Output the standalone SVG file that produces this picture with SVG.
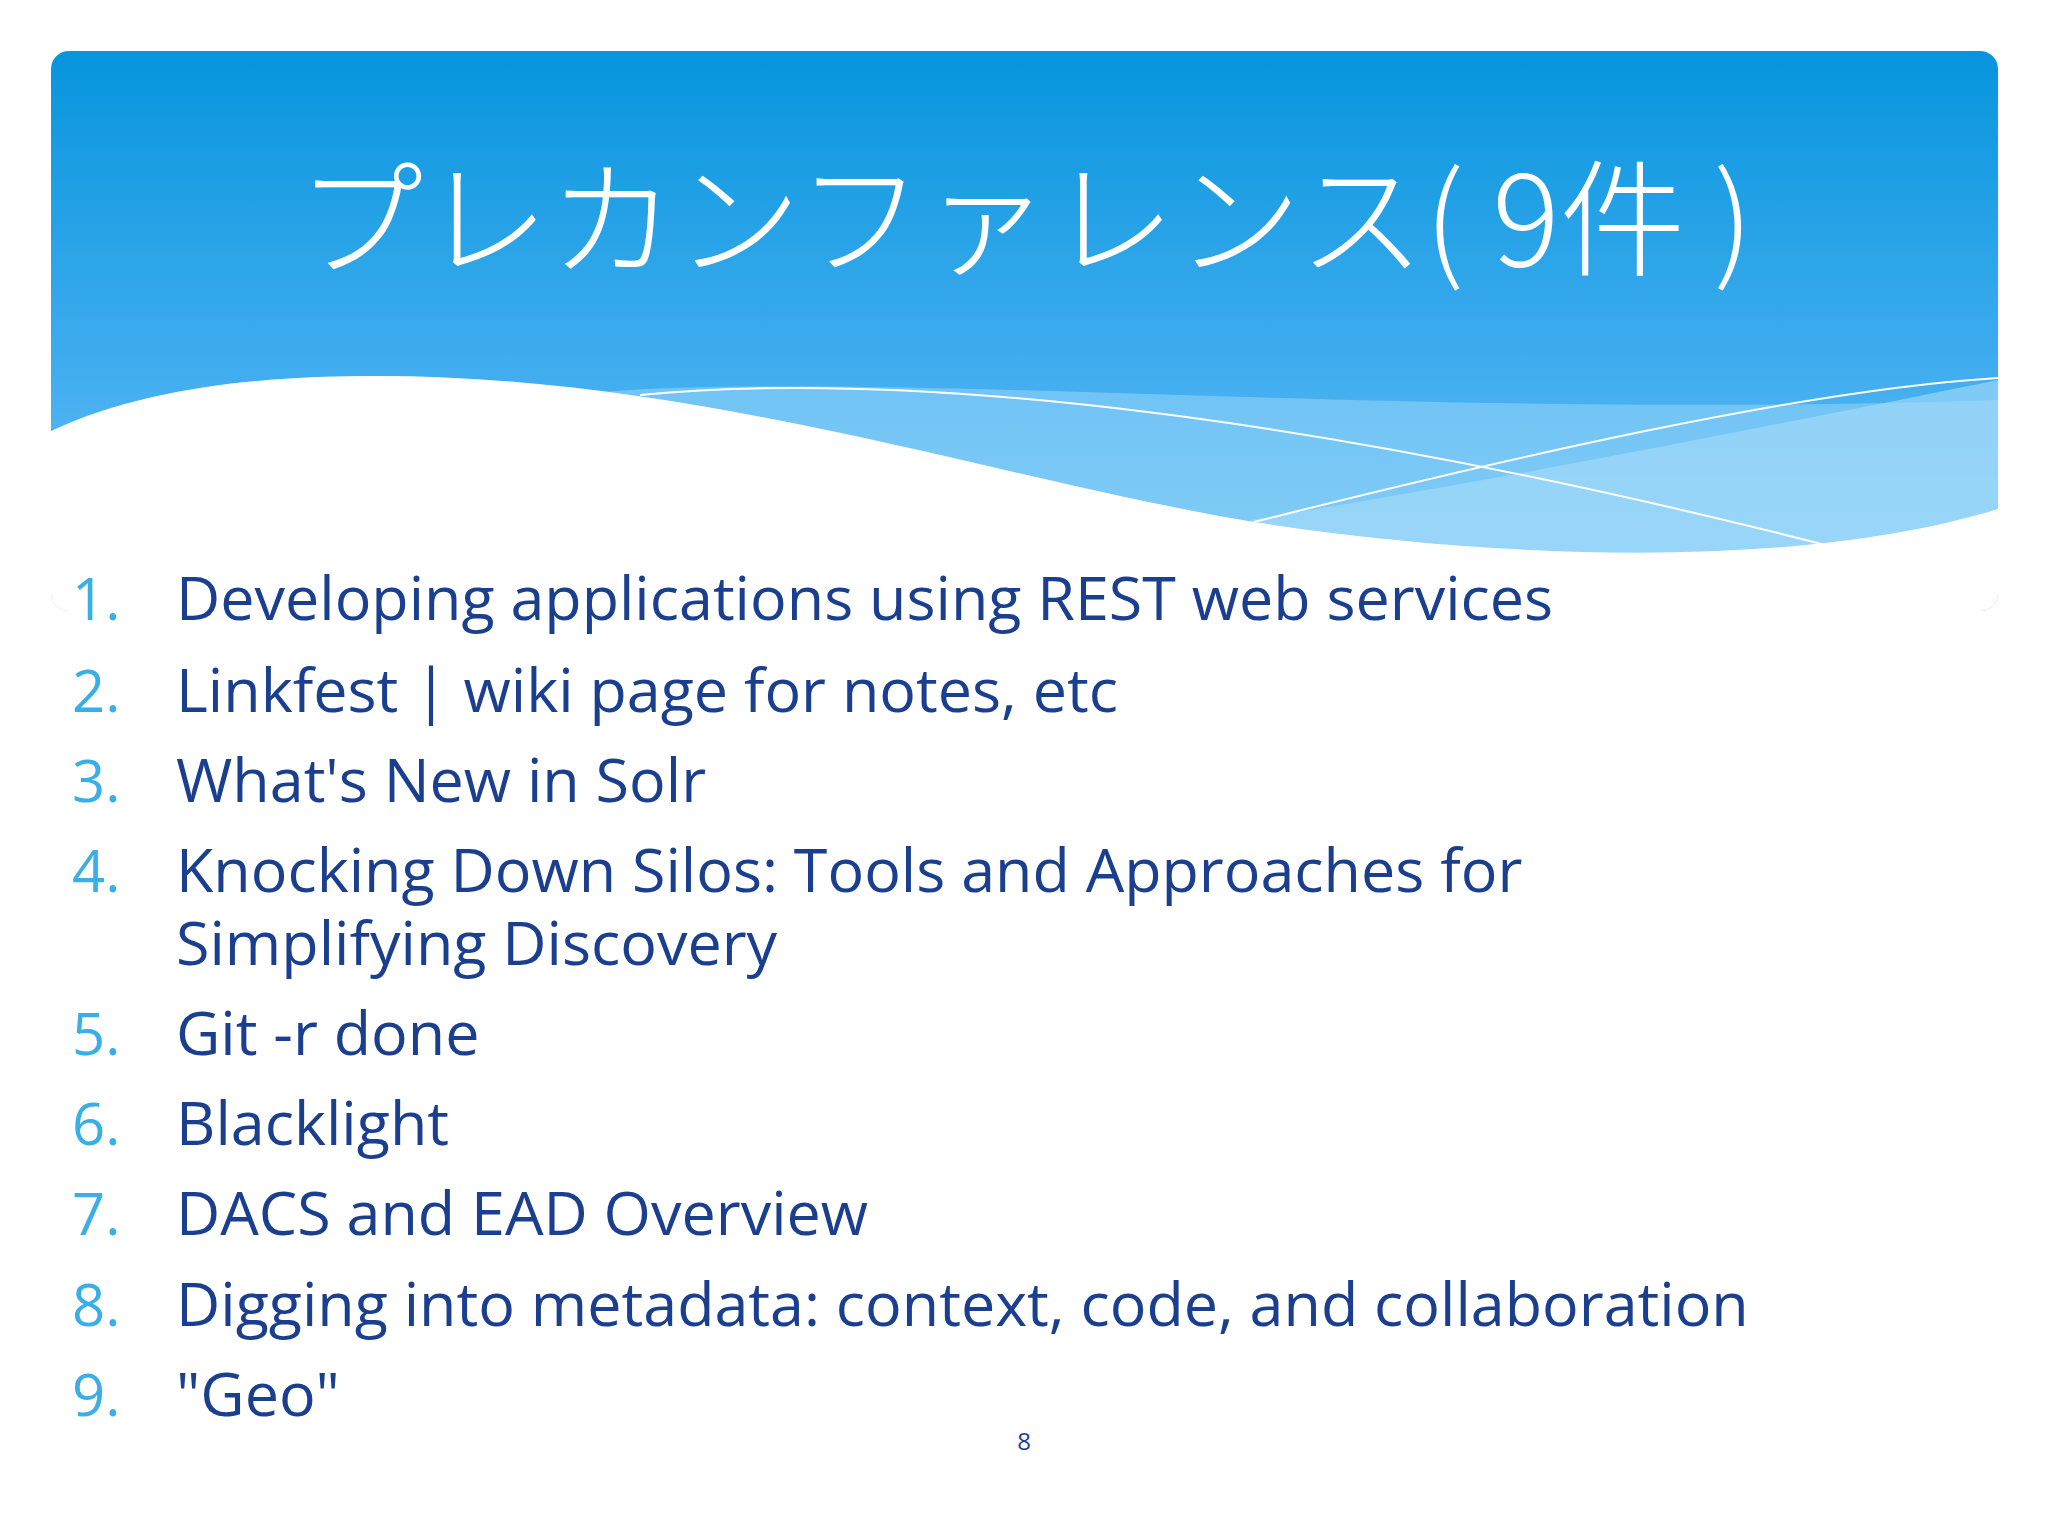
<svg xmlns="http://www.w3.org/2000/svg" width="2048" height="1536" viewBox="0 0 2048 1536">
<defs>
<linearGradient id="hdr" x1="0" y1="0" x2="0" y2="1">
<stop offset="0" stop-color="#0795dd"/>
<stop offset="0.6" stop-color="#43aef0"/>
<stop offset="1" stop-color="#7ccaf6"/>
</linearGradient>
<clipPath id="clip"><rect x="51" y="51" width="1947" height="560" rx="18"/></clipPath>
<style>
.item{font-family:"Open Sans","Noto Sans",sans-serif;font-size:61px;fill:#1b3f8f}
.num{font-family:"Open Sans","Noto Sans",sans-serif;font-size:58px;fill:#3aaee6}
</style>
</defs>
<rect width="2048" height="1536" fill="#ffffff"/>
<g id="header" clip-path="url(#clip)">
<rect x="51" y="51" width="1947" height="560" fill="url(#hdr)"/>
<path d="M600,392 C900,370 1400,420 1998,400 L1998,611 L600,611 Z" fill="#8fd2f8" opacity="0.6"/>
<path d="M1250,520 C1500,480 1800,420 1998,380 L1998,611 L1250,611 Z" fill="#a9dcfa" opacity="0.6"/>
<path d="M51,431 C150,385 270,376 379,376 C700,376 1000,480 1254,522 C1500,560 1800,570 1998,509 L1998,611 L51,611 Z" fill="#ffffff"/>
<path d="M640,395 C900,370 1300,410 1841,549" fill="none" stroke="#ffffff" stroke-width="2"/>
<path d="M1254,522 C1500,460 1800,390 1998,378" fill="none" stroke="#ffffff" stroke-width="2"/>
</g>
<g id="title">
<text x="1025" y="266" text-anchor="middle" font-family="'Noto Sans CJK JP',sans-serif" font-size="126" fill="#ffffff" font-weight="300">プレカンファレンス( 9件 )</text>
</g>
<g id="list">
<text class="num" x="72" y="620">1.</text><text class="item" x="176" y="620">Developing applications using REST web services</text>
<text class="num" x="72" y="712">2.</text><text class="item" x="176" y="712">Linkfest | wiki page for notes, etc</text>
<text class="num" x="72" y="802">3.</text><text class="item" x="176" y="802">What's New in Solr</text>
<text class="num" x="72" y="892">4.</text><text class="item" x="176" y="892">Knocking Down Silos: Tools and Approaches for</text>
<text class="item" x="176" y="965">Simplifying Discovery</text>
<text class="num" x="72" y="1055">5.</text><text class="item" x="176" y="1055">Git -r done</text>
<text class="num" x="72" y="1145">6.</text><text class="item" x="176" y="1145">Blacklight</text>
<text class="num" x="72" y="1235">7.</text><text class="item" x="176" y="1235">DACS and EAD Overview</text>
<text class="num" x="72" y="1326">8.</text><text class="item" x="176" y="1326">Digging into metadata: context, code, and collaboration</text>
<text class="num" x="72" y="1416">9.</text><text class="item" x="176" y="1416">"Geo"</text>
</g>
<g id="page">
<text x="1024" y="1450" text-anchor="middle" font-family="'Open Sans',sans-serif" font-size="24" fill="#1b3f8f">8</text>
</g>
</svg>
